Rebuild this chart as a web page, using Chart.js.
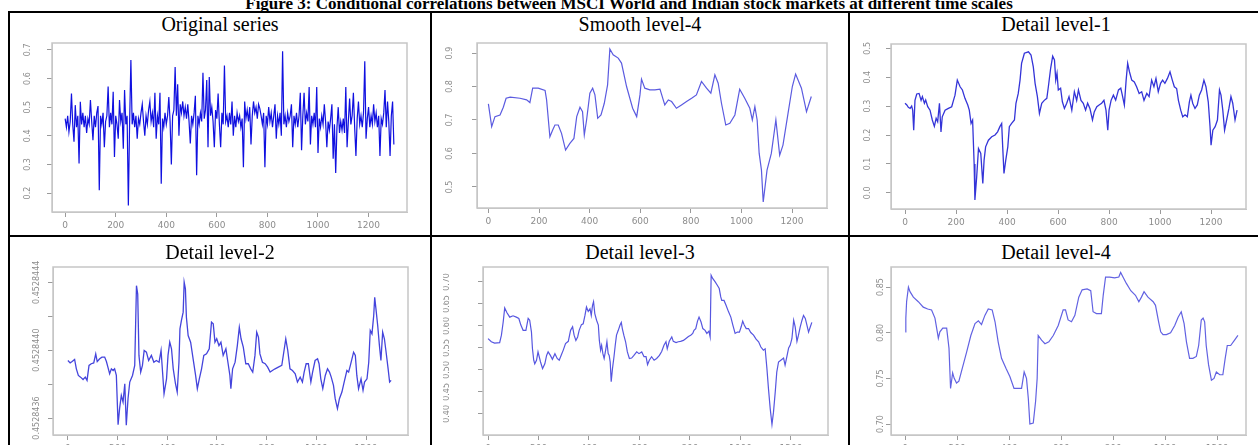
<!DOCTYPE html>
<html>
<head>
<meta charset="utf-8">
<script src="https://cdn.jsdelivr.net/npm/chart.js@4/dist/chart.umd.min.js"></script>
<style>
  body { margin: 0; width: 1258px; height: 445px; overflow: hidden; background: #fff; position: relative;
         font-family: "Liberation Serif", "Times New Roman", serif; }
  #fig-title { position: absolute; left: 0; width: 1258px; top: -6px; text-align: center;
               font-weight: bold; font-size: 17px; line-height: 20px; white-space: nowrap; }
  .rule { position: absolute; background: #000; }
  .cell-title { position: absolute; text-align: center; font-size: 20px; line-height: 24px; white-space: nowrap; }
  canvas { position: absolute; }
</style>
</head>
<body>
<div id="fig-title">Figure 3: Conditional correlations between MSCI World and Indian stock markets at different time scales</div>
<script>
// ---- data ----
const xTickVals = [0, 200, 400, 600, 800, 1000, 1200];

// original series, sampled every 5 observations
const origStep = 5;
const origVals = [
  0.46,0.43,0.47,0.414,0.45,0.548,0.44,0.379,0.507,0.43,
  0.47,0.303,0.519,0.44,0.48,0.43,0.47,0.41,0.46,0.44,
  0.525,0.45,0.385,0.47,0.43,0.48,0.504,0.21,0.47,0.44,
  0.48,0.36,0.45,0.47,0.572,0.43,0.48,0.44,0.554,0.326,
  0.47,0.44,0.39,0.525,0.45,0.48,0.355,0.56,0.44,0.47,
  0.157,0.45,0.665,0.44,0.48,0.43,0.47,0.39,0.46,0.44,
  0.48,0.51,0.45,0.40,0.47,0.44,0.49,0.52,0.45,0.48,
  0.43,0.55,0.39,0.47,0.44,0.55,0.233,0.46,0.43,0.48,
  0.44,0.47,0.535,0.45,0.30,0.47,0.49,0.64,0.47,0.58,
  0.40,0.51,0.48,0.52,0.47,0.50,0.46,0.51,0.45,0.373,
  0.47,0.44,0.48,0.54,0.262,0.47,0.44,0.48,0.45,0.62,
  0.46,0.49,0.595,0.36,0.605,0.47,0.50,0.45,0.36,0.49,
  0.46,0.548,0.44,0.36,0.48,0.44,0.645,0.45,0.47,0.43,
  0.48,0.44,0.52,0.40,0.47,0.43,0.48,0.45,0.47,0.43,
  0.46,0.29,0.52,0.46,0.49,0.45,0.50,0.37,0.47,0.52,
  0.48,0.50,0.46,0.51,0.495,0.47,0.44,0.48,0.29,0.47,
  0.44,0.50,0.45,0.48,0.43,0.47,0.51,0.39,0.47,0.44,
  0.48,0.40,0.695,0.44,0.47,0.43,0.48,0.45,0.47,0.51,
  0.36,0.47,0.44,0.48,0.43,0.47,0.55,0.35,0.47,0.55,
  0.44,0.48,0.45,0.57,0.37,0.47,0.44,0.48,0.43,0.57,
  0.34,0.46,0.43,0.47,0.44,0.51,0.45,0.36,0.45,0.42,
  0.46,0.51,0.32,0.44,0.27,0.43,0.50,0.41,0.45,0.42,
  0.46,0.41,0.57,0.36,0.45,0.53,0.44,0.47,0.55,0.43,
  0.33,0.46,0.52,0.44,0.47,0.43,0.48,0.66,0.39,0.46,
  0.50,0.43,0.47,0.44,0.51,0.45,0.48,0.43,0.47,0.33,
  0.46,0.44,0.48,0.56,0.43,0.52,0.45,0.33,0.47,0.52,
  0.37
];
const origTicks = [0.2, 0.3, 0.4, 0.5, 0.6, 0.7];

const smoothIdx = [0,13,26,46,59,70,86,125,151,164,175,197,224,230,243,254,263,276,289,305,
  322,338,349,362,372,379,388,401,412,421,432,445,458,471,480,493,513,526,546,570,
  586,599,605,618,638,658,678,697,711,724,743,763,783,803,822,842,862,879,895,908,
  921,938,954,974,993,1013,1033,1043,1053,1062,1070,1079,1086,1101,1118,1136,1151,1164,1184,1201,
  1214,1237,1257,1276];
const smoothVals = [0.748,0.68,0.71,0.715,0.738,0.765,0.768,0.765,0.76,0.752,0.795,0.795,0.788,0.76,0.65,0.67,0.685,0.685,0.66,0.61,
  0.63,0.645,0.71,0.738,0.725,0.655,0.70,0.78,0.795,0.775,0.705,0.715,0.75,0.805,0.912,0.895,0.885,0.87,0.80,0.735,
  0.71,0.775,0.822,0.795,0.79,0.79,0.792,0.745,0.76,0.755,0.735,0.745,0.755,0.765,0.775,0.815,0.795,0.78,0.835,0.81,
  0.75,0.685,0.69,0.715,0.792,0.765,0.735,0.70,0.74,0.70,0.60,0.55,0.455,0.55,0.60,0.70,0.595,0.625,0.72,0.80,
  0.837,0.795,0.725,0.77];
const smoothTicks = [0.5, 0.6, 0.7, 0.8, 0.9];

const d1Idx = [0,7,13,20,26,30,34,39,46,55,63,68,76,81,89,98,107,115,122,128,
  135,141,146,157,170,183,190,196,205,216,225,235,246,252,259,265,271,274,281,288,
  297,305,310,316,327,340,353,363,372,379,383,388,395,403,409,418,429,435,444,451,
  457,468,484,494,503,510,519,527,536,546,556,562,571,579,586,591,596,601,610,617,
  625,634,643,654,664,673,680,690,699,708,716,725,735,742,752,761,771,780,788,795,
  800,808,817,826,837,846,852,860,867,873,880,889,899,908,918,928,937,948,957,967,
  976,984,993,1002,1010,1019,1029,1039,1048,1056,1065,1072,1081,1089,1098,1107,1115,1121,1128,1137,
  1146,1154,1163,1172,1180,1189,1196,1200,1207,1216,1225,1233,1239,1246,1253,1261,1270,1278,1285,1294,
  1302];
const d1Vals = [0.31,0.304,0.296,0.292,0.30,0.286,0.217,0.32,0.342,0.344,0.32,0.333,0.31,0.321,0.298,0.286,0.252,0.23,0.258,0.246,
  0.31,0.211,0.263,0.286,0.292,0.298,0.32,0.338,0.39,0.367,0.356,0.327,0.304,0.286,0.24,0.252,0.10,-0.025,0.055,0.153,
  0.136,0.032,0.113,0.159,0.182,0.194,0.20,0.211,0.229,0.24,0.159,0.067,0.113,0.159,0.229,0.24,0.252,0.31,0.344,0.39,
  0.448,0.483,0.488,0.477,0.436,0.379,0.333,0.275,0.31,0.32,0.327,0.367,0.431,0.473,0.46,0.39,0.414,0.356,0.362,0.315,
  0.292,0.31,0.333,0.286,0.35,0.32,0.356,0.32,0.31,0.286,0.31,0.292,0.252,0.28,0.298,0.304,0.31,0.32,0.286,0.217,
  0.286,0.32,0.338,0.321,0.356,0.362,0.338,0.304,0.39,0.448,0.419,0.39,0.384,0.367,0.344,0.35,0.32,0.344,0.333,0.39,
  0.367,0.396,0.35,0.379,0.39,0.379,0.396,0.419,0.39,0.367,0.361,0.32,0.286,0.263,0.27,0.263,0.315,0.338,0.31,0.292,
  0.304,0.338,0.356,0.39,0.367,0.315,0.229,0.165,0.217,0.229,0.252,0.356,0.338,0.286,0.217,0.252,0.292,0.333,0.31,0.252,
  0.286];
const d1Ticks = [0.0, 0.1, 0.2, 0.3, 0.4, 0.5];

const d2Idx = [0,9,17,27,34,42,51,61,70,77,85,94,104,112,118,128,137,148,155,161,
  168,175,182,188,195,202,208,215,222,229,235,242,249,260,269,276,281,286,293,300,
  307,316,325,336,346,356,367,375,381,387,397,403,410,417,424,433,440,447,451,457,
  464,468,473,477,484,494,504,514,521,529,538,547,558,569,578,585,592,599,608,616,
  625,636,643,652,656,663,673,682,690,697,706,716,726,736,744,753,760,767,773,783,
  794,804,814,823,834,847,861,870,877,885,894,904,915,924,935,944,951,959,968,978,
  985,995,1005,1011,1018,1026,1036,1045,1053,1060,1069,1076,1085,1093,1103,1112,1123,1130,1137,1150,
  1157,1163,1170,1180,1188,1194,1204,1211,1217,1224,1231,1235,1240,1247,1254,1260,1267,1274,1280,1289,
  1295,1301];
const d2Vals = [0.452843939,0.452843925,0.452843933,0.452843945,0.452843890,0.452843851,0.452843841,0.452843827,0.452843841,0.452843822,
  0.452843910,0.452843920,0.452843925,0.452843978,0.452843933,0.452843949,0.452843959,0.452843959,0.452843933,0.452843900,
  0.452843861,0.452843890,0.452843880,0.452843890,0.452843851,0.452843561,0.452843655,0.452843733,0.452843694,0.452843802,
  0.452843557,0.452843714,0.452843812,0.452843851,0.452843910,0.452844380,0.452844331,0.452843969,0.452843871,0.452843910,
  0.452843998,0.452843988,0.452843939,0.452843969,0.452843929,0.452843939,0.452843929,0.452843998,0.452843871,0.452843743,
  0.452843831,0.452843969,0.452844047,0.452844008,0.452843890,0.452843802,0.452843753,0.452843929,0.452844125,0.452844175,
  0.452844224,0.452844400,0.452844361,0.452844194,0.452844086,0.452844047,0.452843949,0.452843851,0.452843773,0.452843831,
  0.452843890,0.452843969,0.452843978,0.452844008,0.452844165,0.452844155,0.452844047,0.452844067,0.452844027,0.452844047,
  0.452843969,0.452844008,0.452843939,0.452843851,0.452843773,0.452843890,0.452843929,0.452844027,0.452844135,0.452844067,
  0.452844018,0.452843920,0.452843920,0.452843890,0.452843871,0.452843969,0.452844106,0.452844076,0.452843978,0.452843929,
  0.452843920,0.452843900,0.452843871,0.452843880,0.452843890,0.452843900,0.452843910,0.452843998,0.452844067,0.452843998,
  0.452843890,0.452843880,0.452843861,0.452843812,0.452843841,0.452843812,0.452843871,0.452843920,0.452843920,0.452843812,
  0.452843871,0.452843939,0.452843949,0.452843920,0.452843831,0.452843773,0.452843851,0.452843890,0.452843871,0.452843841,
  0.452843792,0.452843714,0.452843655,0.452843714,0.452843753,0.452843812,0.452843880,0.452843871,0.452843910,0.452843988,
  0.452843969,0.452843851,0.452843773,0.452843831,0.452843763,0.452843812,0.452843831,0.452843929,0.452844116,0.452844096,
  0.452844204,0.452844312,0.452844243,0.452844145,0.452844027,0.452843939,0.452844106,0.452844067,0.452843998,0.452843890,
  0.452843812,0.452843822];
const d2Ticks = [0.4528436, 0.4528438, 0.4528440, 0.4528442, 0.4528444];
const d2TickLabels = ['0.4528436', '', '0.4528440', '', '0.4528444'];

const d3Idx = [0,13,26,46,53,60,66,75,86,99,112,122,130,139,150,159,165,172,176,181,
  185,192,198,208,216,225,232,238,247,255,265,274,282,291,298,307,318,327,335,341,
  348,355,361,370,377,384,390,397,404,409,414,418,423,430,437,441,446,450,455,460,
  466,471,476,480,484,488,493,499,504,509,516,523,528,532,538,545,552,560,569,578,
  589,598,609,618,626,632,639,648,658,668,679,688,697,705,710,718,728,734,745,754,
  763,774,783,794,803,811,816,823,830,836,844,851,860,867,875,880,884,890,900,909,
  916,922,926,935,943,953,962,970,979,988,996,1003,1009,1015,1023,1032,1041,1052,1062,1072,
  1081,1091,1098,1105,1111,1118,1125,1131,1138,1144,1151,1160,1171,1177,1184,1191,1197,1204,1211,1217,
  1224,1230,1237,1244,1250,1257,1263,1270,1277,1283];
const d3Vals = [0.571,0.564,0.561,0.562,0.579,0.609,0.641,0.630,0.620,0.623,0.620,0.617,0.602,0.590,0.590,0.617,0.613,0.586,0.548,0.522,
  0.514,0.522,0.541,0.518,0.503,0.514,0.533,0.541,0.533,0.524,0.537,0.526,0.522,0.535,0.545,0.560,0.565,0.590,0.598,0.579,
  0.567,0.575,0.590,0.603,0.605,0.624,0.643,0.633,0.639,0.624,0.647,0.655,0.628,0.613,0.602,0.567,0.545,0.556,0.537,0.526,
  0.545,0.564,0.537,0.533,0.518,0.473,0.503,0.530,0.556,0.579,0.590,0.602,0.608,0.594,0.579,0.564,0.541,0.526,0.527,0.533,
  0.541,0.537,0.541,0.530,0.530,0.512,0.522,0.530,0.522,0.526,0.533,0.542,0.556,0.564,0.548,0.565,0.575,0.565,0.562,0.564,
  0.565,0.567,0.571,0.576,0.579,0.583,0.590,0.594,0.611,0.620,0.609,0.594,0.590,0.583,0.588,0.575,0.715,0.708,0.700,0.692,
  0.685,0.666,0.658,0.658,0.647,0.632,0.620,0.602,0.583,0.586,0.586,0.598,0.611,0.602,0.594,0.594,0.585,0.579,0.570,0.564,
  0.552,0.545,0.548,0.503,0.458,0.412,0.376,0.404,0.450,0.495,0.518,0.522,0.527,0.511,0.530,0.550,0.556,0.571,0.613,0.598,
  0.565,0.579,0.598,0.613,0.624,0.617,0.603,0.586,0.598,0.608];
const d3Ticks = [0.40, 0.45, 0.50, 0.55, 0.60, 0.65, 0.70];

const d4Idx = [1,3,6,13,19,32,51,70,87,102,115,124,128,134,145,160,169,175,183,189,
  198,207,220,237,253,269,282,294,307,320,335,346,358,371,388,403,419,435,448,458,
  467,474,480,493,502,508,512,525,538,553,570,589,608,617,627,640,653,668,681,700,
  714,723,736,755,762,771,787,806,822,829,838,851,868,886,899,909,919,934,954,963,
  975,983,992,1005,1021,1037,1050,1062,1073,1082,1094,1107,1120,1129,1139,1146,1152,1158,1167,1178,
  1188,1197,1210,1222,1231,1239,1252,1267,1280];
const d4Vals = [0.801,0.816,0.834,0.850,0.845,0.839,0.834,0.828,0.826,0.825,0.816,0.801,0.794,0.801,0.805,0.805,0.783,0.739,0.756,0.750,
  0.745,0.747,0.761,0.779,0.797,0.810,0.813,0.809,0.819,0.826,0.825,0.812,0.790,0.772,0.761,0.752,0.739,0.739,0.739,0.757,
  0.750,0.728,0.700,0.701,0.725,0.750,0.797,0.792,0.788,0.790,0.797,0.808,0.825,0.825,0.814,0.812,0.819,0.839,0.847,0.848,
  0.846,0.823,0.821,0.821,0.841,0.861,0.861,0.860,0.861,0.866,0.861,0.854,0.846,0.841,0.834,0.839,0.845,0.839,0.834,0.830,
  0.812,0.801,0.798,0.798,0.800,0.808,0.817,0.823,0.810,0.790,0.772,0.772,0.774,0.786,0.814,0.816,0.812,0.786,0.765,0.748,
  0.750,0.757,0.754,0.754,0.772,0.786,0.786,0.792,0.797];
const d4Ticks = [0.70, 0.75, 0.80, 0.85];

// ---- table layout ----
const cols = [[10, 430], [432, 848], [850, 1262]];
const rowTitleTop = [12, 240];
[[8, 11, 1256, 2], [8, 235, 1256, 2], [8, 11, 2, 440], [430, 11, 2, 440], [848, 11, 2, 440]].forEach(r => {
  const d = document.createElement('div');
  d.className = 'rule';
  d.style.cssText = `left:${r[0]}px;top:${r[1]}px;width:${r[2]}px;height:${r[3]}px`;
  document.body.appendChild(d);
});

const frameBox = {
  id: 'frameBox',
  afterDatasetsDraw(chart) {
    const a = chart.chartArea, c = chart.ctx;
    c.save();
    c.strokeStyle = '#c6c6c6';
    c.lineWidth = 1.5;
    c.strokeRect(a.left, a.top, a.right - a.left, a.bottom - a.top);
    c.restore();
  }
};

// R-style vertical y labels
const sideLabels = {
  id: 'sideLabels',
  afterDraw(chart, args, opts) {
    const s = chart.scales.y, c = chart.ctx;
    c.save();
    c.fillStyle = '#8c8c8c';
    c.font = '8px "DejaVu Sans"';
    c.textAlign = 'center';
    c.textBaseline = 'middle';
    s.ticks.forEach((t, i) => {
      const lbl = opts.labels[i];
      if (!lbl) return;
      c.save();
      c.translate(chart.chartArea.left - opts.offset, s.getPixelForValue(t.value));
      c.rotate(-Math.PI / 2);
      c.fillText(lbl, 0, 0);
      c.restore();
    });
    c.restore();
  }
};

const panels = [
  { title: 'Original series', col: 0, row: 0, frame: [52, 43, 407, 212],
    xs: origVals.map((v, i) => i * origStep), ys: origVals, xr: [-52, 1352], yr: [0.134, 0.724],
    yt: origTicks, yl: origTicks.map(v => v.toFixed(1)), off: 24, color: '#1010e0', w: 1.2 },
  { title: 'Smooth level-4', col: 1, row: 0, frame: [477, 43, 827, 208],
    xs: smoothIdx, ys: smoothVals, xr: [-45, 1338], yr: [0.437, 0.930],
    yt: smoothTicks, yl: smoothTicks.map(v => v.toFixed(1)), off: 27, color: '#5b5be0', w: 1.2 },
  { title: 'Detail level-1', col: 2, row: 0, frame: [891, 44, 1246, 209],
    xs: d1Idx, ys: d1Vals, xr: [-55, 1337], yr: [-0.056, 0.515],
    yt: d1Ticks, yl: d1Ticks.map(v => v.toFixed(1)), off: 23, color: '#3434d8', w: 1.3 },
  { title: 'Detail level-2', col: 0, row: 1, frame: [53, 267, 408, 435],
    xs: d2Idx, ys: d2Vals, xr: [-60, 1369], yr: [0.4528435, 0.45284449],
    yt: d2Ticks, yl: d2TickLabels, off: 16, color: '#4444dc', w: 1.3 },
  { title: 'Detail level-3', col: 1, row: 1, frame: [483, 267, 828, 435],
    xs: d3Idx, ys: d3Vals, xr: [-20, 1347], yr: [0.352, 0.734],
    yt: d3Ticks, yl: d3Ticks.map(v => v.toFixed(2)), off: 36, color: '#5656e0', w: 1.2 },
  { title: 'Detail level-4', col: 2, row: 1, frame: [891, 267, 1246, 435],
    xs: d4Idx, ys: d4Vals, xr: [-54, 1311], yr: [0.688, 0.872],
    yt: d4Ticks, yl: d4Ticks.map(v => v.toFixed(2)), off: 10, color: '#6262e2', w: 1.2 }
];

const padL = 40, padT = 8, padR = 8, padB = 30;

panels.forEach(p => {
  const t = document.createElement('div');
  t.className = 'cell-title';
  t.textContent = p.title;
  t.style.left = cols[p.col][0] + 'px';
  t.style.width = (cols[p.col][1] - cols[p.col][0]) + 'px';
  t.style.top = rowTitleTop[p.row] + 'px';
  document.body.appendChild(t);

  const [l, top, r, b] = p.frame;
  const cv = document.createElement('canvas');
  const w = r - l + padL + padR, h = b - top + padT + padB;
  cv.width = w; cv.height = h;
  cv.style.cssText = `left:${l - padL}px;top:${top - padT}px;width:${w}px;height:${h}px`;
  document.body.appendChild(cv);

  new Chart(cv, {
    type: 'line',
    data: { datasets: [{ data: p.xs.map((x, i) => ({ x: x, y: p.ys[i] })),
      borderColor: p.color, borderWidth: p.w, pointRadius: 0, tension: 0, fill: false }] },
    options: {
      responsive: false, animation: false, events: [],
      layout: { padding: { left: 0, top: padT, right: padR, bottom: 0 } },
      plugins: { legend: { display: false }, tooltip: { enabled: false },
                 sideLabels: { labels: p.yl, offset: p.off } },
      scales: {
        x: { type: 'linear', min: p.xr[0], max: p.xr[1],
             afterBuildTicks: s => { s.ticks = xTickVals.map(v => ({ value: v })); },
             afterFit: s => { s.height = padB; },
             grid: { drawOnChartArea: false, tickLength: 5, color: '#9a9a9a' },
             border: { color: '#c6c6c6' },
             ticks: { autoSkip: false, maxRotation: 0, padding: 3, color: '#8c8c8c',
                      font: { family: 'DejaVu Sans', size: 9 }, callback: v => String(v) } },
        y: { type: 'linear', min: p.yr[0], max: p.yr[1],
             afterBuildTicks: s => { s.ticks = p.yt.map(v => ({ value: v })); },
             afterFit: s => { s.width = padL; },
             grid: { drawOnChartArea: false, tickLength: 5, color: '#9a9a9a' },
             border: { color: '#c6c6c6' },
             ticks: { display: false } }
      }
    },
    plugins: [frameBox, sideLabels]
  });
});
</script>
</body>
</html>
